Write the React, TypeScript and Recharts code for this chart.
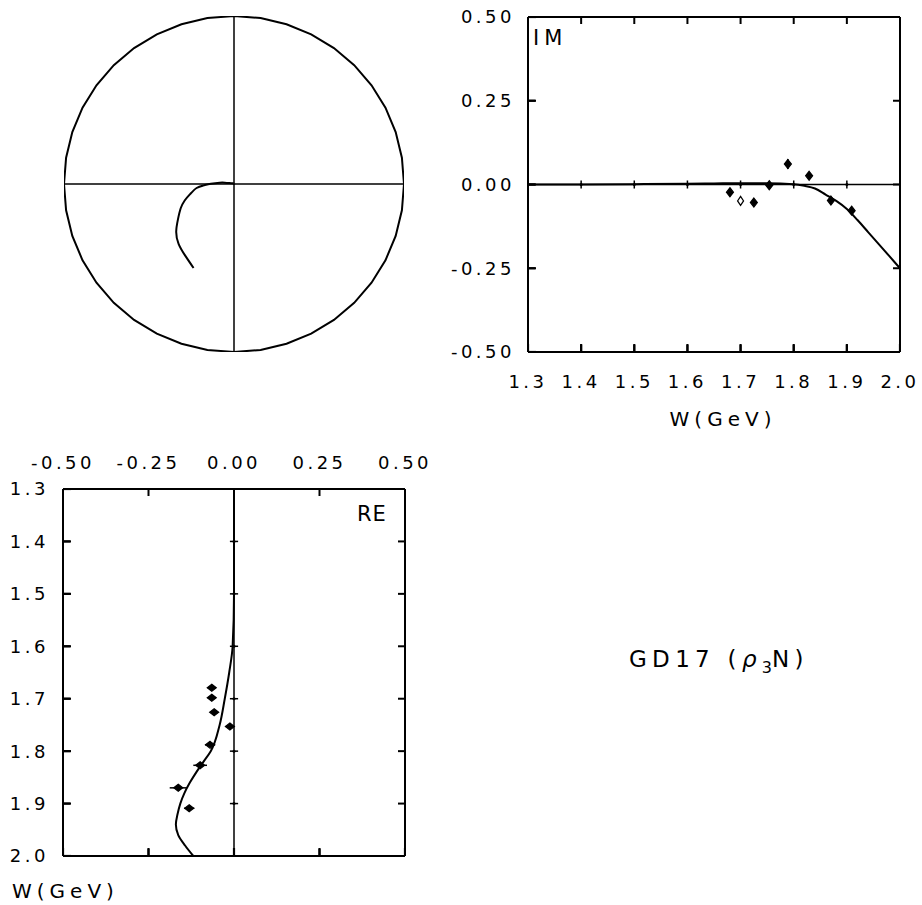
import React from 'react';
import { ScatterChart, Scatter, XAxis, YAxis, ReferenceLine, ErrorBar } from 'recharts';

// fitted partial wave
const fitW = [1.3, 1.4, 1.5, 1.6, 1.65, 1.7, 1.75, 1.8, 1.82, 1.84, 1.86, 1.88, 1.9, 1.92, 1.94, 1.96, 1.98, 2.0];
const fitRe = [0, 0, 0, -0.004, -0.014, -0.027, -0.042, -0.068, -0.089, -0.11, -0.129, -0.145, -0.157, -0.165, -0.17, -0.163, -0.143, -0.119];
const fitIm = [0, 0, 0.001, 0.002, 0.003, 0.004, 0.004, 0.001, -0.004, -0.012, -0.03, -0.049, -0.073, -0.106, -0.142, -0.178, -0.214, -0.25];

// measured points
const ptW = [1.68, 1.7, 1.725, 1.754, 1.789, 1.829, 1.87, 1.909];
const ptIm = [-0.023, -0.049, -0.054, -0.002, 0.061, 0.026, -0.048, -0.078];
const ptImErr = [0.012, 0.008, 0.006, 0.004, 0.015, 0.005, 0.01, 0.006];
const ptReW = [1.679, 1.698, 1.726, 1.753, 1.788, 1.827, 1.87, 1.909];
const ptRe = [-0.065, -0.065, -0.058, -0.012, -0.07, -0.099, -0.163, -0.131];
const ptReErr = [0.012, 0.012, 0.008, 0.012, 0.015, 0.02, 0.025, 0.015];

// points sitting at zero
const zeroW = [1.4, 1.5, 1.6, 1.7, 1.8, 1.9];
const zeroErr = [0.012, 0.012, 0.012, 0.012, 0.012, 0.012];

const wTicks = [1.3, 1.4, 1.5, 1.6, 1.7, 1.8, 1.9, 2.0];
const ampTicks = [-0.5, -0.25, 0, 0.25, 0.5];
const wMin = wTicks[0];
const wMax = wTicks[wTicks.length - 1];
const ampMin = ampTicks[0];

const imFit = fitW.map((w, i) => ({ w, im: fitIm[i] }));
const reFit = fitW.map((w, i) => ({ w, re: fitRe[i] }));
const argand = fitW.map((w, i) => ({ re: fitRe[i], im: fitIm[i] }));
const imPts = ptW.map((w, i) => ({ w, im: ptIm[i], err: ptImErr[i] }));
const imFilled = imPts.filter((_, i) => i !== 1);
const imOpen = imPts.filter((_, i) => i === 1);
const rePts = ptReW.map((w, i) => ({ w, re: ptRe[i], err: ptReErr[i] }));
const imZero = zeroW.map((w, i) => ({ w, im: 0, err: zeroErr[i] }));
const reZero = zeroW.map((w, i) => ({ w, re: 0, err: zeroErr[i] }));

// tick anchors on the left / bottom frame edges
const imLeftTicks = ampTicks.map(v => ({ w: wMin, im: v }));
const imBottomTicks = wTicks.map(w => ({ w, im: ampMin }));
const reLeftTicks = wTicks.map(w => ({ w, re: ampMin }));
const reBottomTicks = ampTicks.map(v => ({ w: wMax, re: v }));

// unitarity circle, radius 0.5
const circleDeg = Array.from({ length: 41 }, (_, i) => i * 9);
const circle = circleDeg.map(d => ({ re: 0.5 * Math.cos(d * Math.PI / 180), im: 0.5 * Math.sin(d * Math.PI / 180) }));

const FONT = '"DejaVu Sans", sans-serif';
const tickStyle = { fill: '#000', fontSize: 18, fontFamily: FONT, letterSpacing: 3.5 };
const fmt1 = (v: number) => v.toFixed(1);
const fmt2 = (v: number) => v.toFixed(2);
const blank = () => '';

// thin axes on the plot edge: frame + inward ticks
const frame = { tickFormatter: blank, tickSize: -7, stroke: '#000', strokeWidth: 2, allowDataOverflow: true };
// label-only axes stacked outside them
const labels = { tickSize: 0, tickLine: false, axisLine: false, tick: tickStyle, allowDataOverflow: true };

const diamond = (hw: number, hh: number, fill: string) => (props: any) => {
  const { cx, cy } = props;
  if (cx == null || cy == null) return <g />;
  return <polygon points={`${cx},${cy - hh} ${cx + hw},${cy} ${cx},${cy + hh} ${cx - hw},${cy}`} fill={fill} stroke="#000" strokeWidth={1.2} />;
};
const tickRight = (p: any) => <path d={`M${p.cx},${p.cy}h8`} stroke="#000" strokeWidth={2.2} fill="none" />;
const tickUp = (p: any) => <path d={`M${p.cx},${p.cy}v-8`} stroke="#000" strokeWidth={2.2} fill="none" />;
const tinyDot = (props: any) => <circle cx={props.cx} cy={props.cy} r={1.5} fill="#000" />;
const noShape = () => <g />;

const abs = (left: number, top: number): React.CSSProperties => ({ position: 'absolute', left, top });

const App = () => {
  return <div style={{ position: 'absolute', left: 0, top: 0, width: 922, height: 905, background: '#fff', fontFamily: FONT, color: '#000' }}>
      {/* Argand diagram */}
      <div style={abs(0, 0)}>
        <ScatterChart width={420} height={370} margin={{ top: 16, right: 16, bottom: 18, left: 64 }}>
          <XAxis type="number" dataKey="re" domain={[-0.5, 0.5]} hide allowDataOverflow />
          <YAxis type="number" dataKey="im" domain={[-0.5, 0.5]} hide allowDataOverflow />
          <ReferenceLine x={0} stroke="#000" strokeWidth={1.5} />
          <ReferenceLine y={0} stroke="#000" strokeWidth={1.5} />
          <Scatter data={circle} line={{ stroke: '#000', strokeWidth: 2 }} lineJointType="linear" shape={noShape} isAnimationActive={false} />
          <Scatter data={argand} line={{ stroke: '#000', strokeWidth: 2 }} lineJointType="natural" shape={noShape} isAnimationActive={false} />
        </ScatterChart>
      </div>

      {/* IM vs W */}
      <div style={abs(420, 0)}>
        <ScatterChart width={500} height={440} margin={{ top: 16, right: 19, bottom: 0, left: 0 }}>
          <XAxis xAxisId="fb" type="number" dataKey="w" orientation="bottom" domain={[1.3, 2.0]} ticks={wTicks} height={1} {...frame} />
          <XAxis xAxisId="lb" type="number" dataKey="w" orientation="bottom" domain={[1.3, 2.0]} ticks={wTicks} tickFormatter={fmt1} height={87} tickMargin={22} {...labels} label={{ value: 'W(GeV)', position: 'insideBottom', offset: 14, dx: 9, fill: '#000', fontSize: 20, fontFamily: FONT, letterSpacing: 5 } as any} />
          <XAxis xAxisId="t" type="number" dataKey="w" orientation="top" domain={[1.3, 2.0]} ticks={wTicks} height={1} {...frame} />
          <YAxis yAxisId="fl" type="number" dataKey="im" orientation="left" domain={[-0.5, 0.5]} ticks={ampTicks} width={1} {...frame} />
          <YAxis yAxisId="ll" type="number" dataKey="im" orientation="left" domain={[-0.5, 0.5]} ticks={ampTicks} tickFormatter={fmt2} width={107} tickMargin={12} {...labels} />
          <YAxis yAxisId="r" type="number" dataKey="im" orientation="right" domain={[-0.5, 0.5]} ticks={ampTicks} width={1} {...frame} />
          <ReferenceLine xAxisId="fb" yAxisId="fl" y={0} stroke="#000" strokeWidth={1.5} />
          <Scatter xAxisId="fb" yAxisId="fl" data={imLeftTicks} shape={tickRight} isAnimationActive={false} />
          <Scatter xAxisId="fb" yAxisId="fl" data={imBottomTicks} shape={tickUp} isAnimationActive={false} />
          <Scatter xAxisId="fb" yAxisId="fl" data={imFit} line={{ stroke: '#000', strokeWidth: 2 }} lineJointType="monotoneX" shape={noShape} isAnimationActive={false} />
          <Scatter xAxisId="fb" yAxisId="fl" data={imZero} shape={tinyDot} isAnimationActive={false}>
            <ErrorBar dataKey="err" direction="y" width={0} stroke="#000" strokeWidth={1.5} />
          </Scatter>
          <Scatter xAxisId="fb" yAxisId="fl" data={imFilled} shape={diamond(3.5, 4.5, '#000')} isAnimationActive={false}>
            <ErrorBar dataKey="err" direction="y" width={0} stroke="#000" strokeWidth={1.5} />
          </Scatter>
          <Scatter xAxisId="fb" yAxisId="fl" data={imOpen} shape={diamond(3, 4.5, '#fff')} isAnimationActive={false}>
            <ErrorBar dataKey="err" direction="y" width={0} stroke="#000" strokeWidth={1.5} />
          </Scatter>
        </ScatterChart>
      </div>
      <div style={{ ...abs(533, 26), fontSize: 21, letterSpacing: 5 }}>IM</div>

      {/* RE vs W (rotated) */}
      <div style={abs(0, 440)}>
        <ScatterChart width={440} height={465} margin={{ top: 0, right: 34, bottom: 48, left: 0 }}>
          <XAxis xAxisId="ft" type="number" dataKey="re" orientation="top" domain={[-0.5, 0.5]} ticks={ampTicks} height={1} {...frame} />
          <XAxis xAxisId="lt" type="number" dataKey="re" orientation="top" domain={[-0.5, 0.5]} ticks={ampTicks} tickFormatter={fmt2} height={48} tickMargin={19} {...labels} />
          <XAxis xAxisId="b" type="number" dataKey="re" orientation="bottom" domain={[-0.5, 0.5]} ticks={ampTicks} height={1} {...frame} />
          <YAxis yAxisId="fl" type="number" dataKey="w" reversed orientation="left" domain={[1.3, 2.0]} ticks={wTicks} width={1} {...frame} />
          <YAxis yAxisId="ll" type="number" dataKey="w" reversed orientation="left" domain={[1.3, 2.0]} ticks={wTicks} tickFormatter={fmt1} width={62} tickMargin={13} {...labels} />
          <YAxis yAxisId="r" type="number" dataKey="w" reversed orientation="right" domain={[1.3, 2.0]} ticks={wTicks} width={1} {...frame} />
          <ReferenceLine xAxisId="ft" yAxisId="fl" x={0} stroke="#000" strokeWidth={1.5} />
          <Scatter xAxisId="ft" yAxisId="fl" data={reLeftTicks} shape={tickRight} isAnimationActive={false} />
          <Scatter xAxisId="ft" yAxisId="fl" data={reBottomTicks} shape={tickUp} isAnimationActive={false} />
          <Scatter xAxisId="ft" yAxisId="fl" data={reFit} line={{ stroke: '#000', strokeWidth: 2 }} lineJointType="monotoneY" shape={noShape} isAnimationActive={false} />
          <Scatter xAxisId="ft" yAxisId="fl" data={reZero} shape={tinyDot} isAnimationActive={false}>
            <ErrorBar dataKey="err" direction="x" width={0} stroke="#000" strokeWidth={1.5} />
          </Scatter>
          <Scatter xAxisId="ft" yAxisId="fl" data={rePts} shape={diamond(4.5, 3.5, '#000')} isAnimationActive={false}>
            <ErrorBar dataKey="err" direction="x" width={0} stroke="#000" strokeWidth={1.5} />
          </Scatter>
        </ScatterChart>
      </div>
      <div style={{ ...abs(357, 502), fontSize: 21, letterSpacing: 1 }}>RE</div>
      <div style={{ ...abs(12, 879), fontSize: 20, letterSpacing: 5 }}>W(GeV)</div>

      <div style={{ ...abs(629, 646), fontSize: 23, letterSpacing: 5.3, whiteSpace: 'nowrap' }}>
        GD17 (<span style={{ fontStyle: 'italic' }}>ρ</span><sub style={{ fontSize: 16, letterSpacing: 0 }}>3</sub>N)
      </div>
    </div>;
};

export default App;
